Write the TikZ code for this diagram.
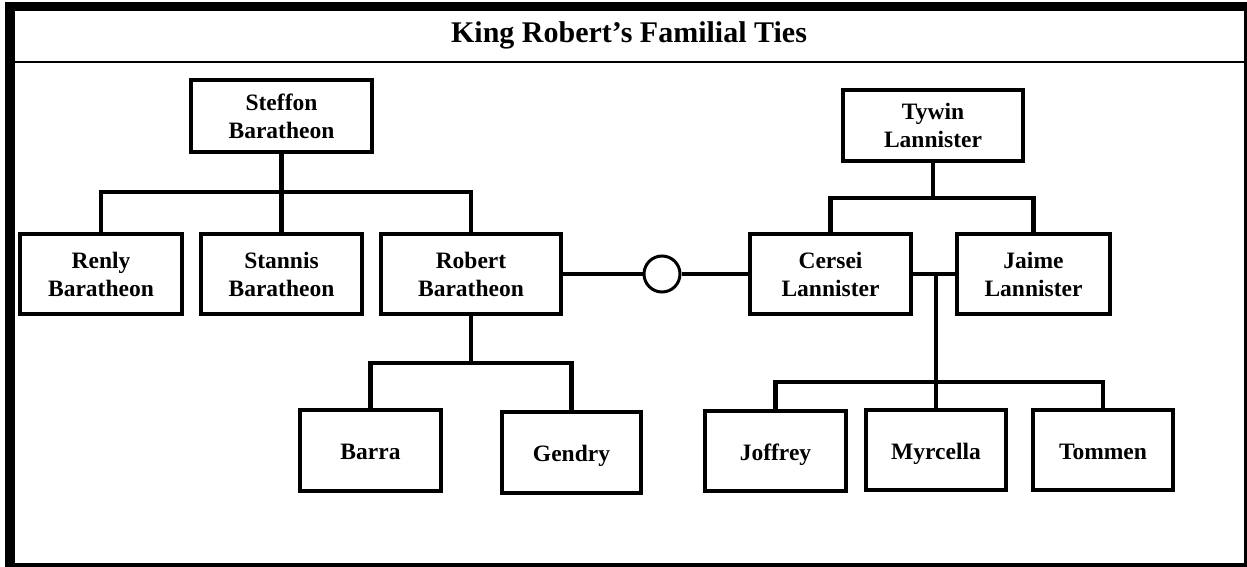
\documentclass[tikz,border=0pt]{standalone}
\usepackage{fontspec}
\setmainfont{Liberation Serif}
\begin{document}
\begin{tikzpicture}[x=1pt,y=-1pt,
  person/.style={draw=black,line width=4.5pt,rectangle,align=center,inner sep=0pt,
    font=\fontsize{23.5}{28}\selectfont\bfseries,fill=white},
  single/.style={text height=24pt,text depth=6pt},
  link/.style={draw=black,line width=4.3pt},
  ring/.style={draw=black,line width=3pt,circle,minimum size=36pt,inner sep=0pt,fill=white}]
\useasboundingbox (0,0) rectangle (1247,567);
% frame
\fill[white] (0,0) rectangle (1247,567);
\fill[black] (5,2) rectangle (1247,567);
\fill[white] (15,11) rectangle (1244,563);
\draw[line width=2.8pt] (15,62) -- (1244,62);
\node[anchor=base,font=\fontsize{30}{36}\selectfont\bfseries] (title) at (629,43) {King Robert’s Familial Ties};
% persons
\node[person,minimum width=181pt,minimum height=72pt] (steffon) at (281.5,116) {Steffon\\Baratheon};
\node[person,minimum width=162pt,minimum height=80pt] (renly) at (101,274) {Renly\\Baratheon};
\node[person,minimum width=161pt,minimum height=80pt] (stannis) at (281.5,274) {Stannis\\Baratheon};
\node[person,minimum width=180pt,minimum height=80pt] (robert) at (471,274) {Robert\\Baratheon};
\node[person,minimum width=161pt,minimum height=80pt] (cersei) at (830.5,274) {Cersei\\Lannister};
\node[person,minimum width=153pt,minimum height=80pt] (jaime) at (1033.5,274) {Jaime\\Lannister};
\node[person,minimum width=180pt,minimum height=71pt] (tywin) at (933,125.5) {Tywin\\Lannister};
\node[person,single,minimum width=141pt,minimum height=81pt] (barra) at (370.5,450.5) {Barra};
\node[person,single,minimum width=139pt,minimum height=81pt] (gendry) at (571.5,452.5) {Gendry};
\node[person,single,minimum width=141pt,minimum height=80pt] (joffrey) at (775.5,451) {Joffrey};
\node[person,single,minimum width=140pt,minimum height=80pt] (myrcella) at (936,450) {Myrcella};
\node[person,single,minimum width=140pt,minimum height=80pt] (tommen) at (1103,450) {Tommen};
\node[ring] (marriage) at (662,274) {};
% junctions
\coordinate (sj) at (281.5,192);
\coordinate (rj) at (471,363);
\coordinate (tj) at (933,198);
\coordinate (cj) at (936,274);
\coordinate (kj) at (936,382);
% connectors
\draw[link] (steffon.south) -- (sj);
\draw[link] (renly.north) |- (sj) -| (robert.north);
\draw[link] (sj) -- (stannis.north);
\draw[link] (robert.south) -- (rj);
\draw[link] (barra.north) |- (rj) -| (gendry.north);
\draw[link] (tywin.south) -- (tj);
\draw[link] (cersei.north) |- (tj) -| (jaime.north);
\draw[link] (cersei.east) -- (jaime.west);
\draw[link] (cj) -- (kj);
\draw[link] (joffrey.north) |- (kj) -| (tommen.north);
\draw[link] (kj) -- (myrcella.north);
\draw[link] (robert.east) -- (marriage.west);
\draw[link] (marriage.east) -- (cersei.west);
\end{tikzpicture}
\end{document}
